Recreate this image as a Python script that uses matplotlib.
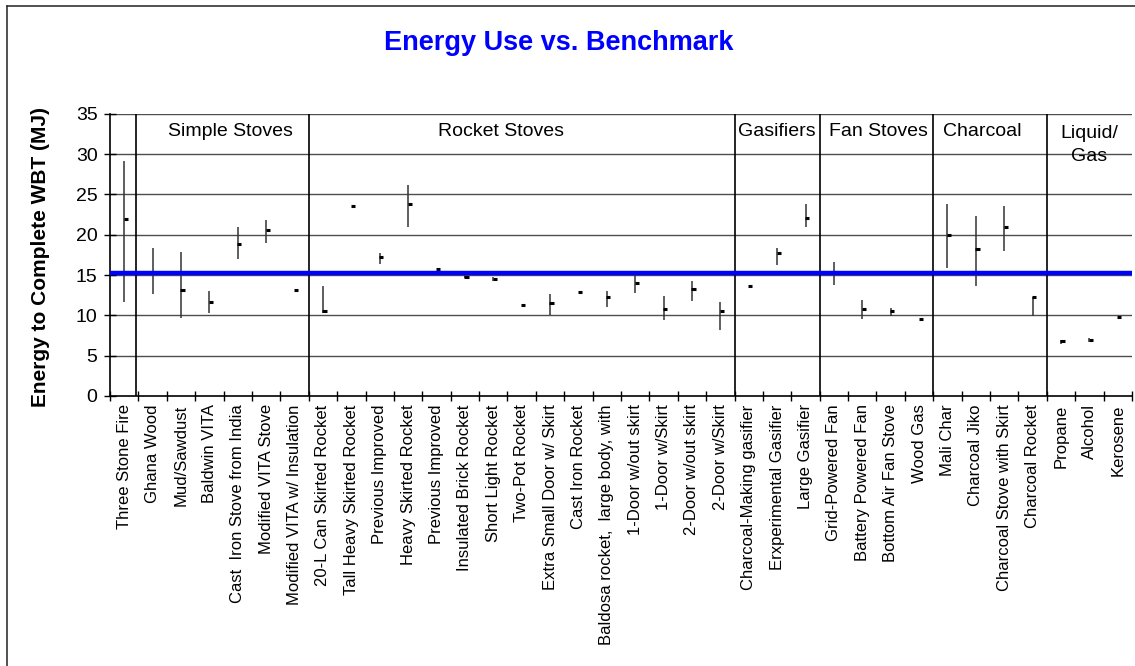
"""Energy use vs. benchmark: high/low range and mean per stove type."""

import numpy as np
import matplotlib
matplotlib.use("Agg")
import matplotlib.pyplot as plt
from matplotlib.lines import Line2D

plt.rcParams["font.family"] = ["Liberation Sans", "DejaVu Sans"]

STOVES = [
    "Three Stone Fire", "Ghana Wood", "Mud/Sawdust", "Baldwin VITA",
    "Cast  Iron Stove from India", "Modified VITA Stove",
    "Modified VITA w/ Insulation",
    "20-L Can Skirted Rocket", "Tall Heavy Skirted Rocket", "Previous Improved",
    "Heavy Skirted Rocket", "Previous Improved", "Insulated Brick Rocket",
    "Short Light Rocket", "Two-Pot Rocket", "Extra Small Door w/ Skirt",
    "Cast Iron Rocket", "Baldosa rocket,  large body, with",
    "1-Door w/out skirt", "1-Door w/Skirt", "2-Door w/out skirt", "2-Door w/Skirt",
    "Charcoal-Making gasifier", "Erxperimental Gasifier", "Large Gasifier",
    "Grid-Powered Fan", "Battery Powered Fan", "Bottom Air Fan Stove", "Wood Gas",
    "Mali Char", "Charcoal Jiko", "Charcoal Stove with Skirt", "Charcoal Rocket",
    "Propane", "Alcohol", "Kerosene",
]

MEAN_MJ = [
    21.9, 15.2, 13.2, 11.6, 18.8, 20.6, 13.2,
    10.6, 23.5, 17.2, 23.8, 15.8, 14.8, 14.5, 11.3, 11.5, 12.9, 12.3,
    14.0, 10.8, 13.3, 10.6,
    13.6, 17.7, 22.1,
    15.4, 10.8, 10.6, 9.5,
    20.0, 18.2, 20.9, 12.3,
    6.8, 7.0, 9.8,
]

HIGH_MJ = [
    29.1, 18.4, 17.8, 13.0, 21.0, 21.8, np.nan,
    13.6, np.nan, 17.7, 26.2, np.nan, 15.0, 14.7, np.nan, 12.7, np.nan, 13.0,
    15.0, 12.4, 14.3, 11.6,
    np.nan, 18.4, 23.8,
    16.6, 11.9, 10.9, np.nan,
    23.8, 22.3, 23.6, 12.3,
    7.0, 7.2, np.nan,
]

LOW_MJ = [
    11.6, 12.6, 9.7, 10.3, 17.0, 19.0, np.nan,
    10.3, np.nan, 16.4, 21.0, np.nan, 14.6, 14.3, np.nan, 10.0, np.nan, 11.0,
    12.8, 9.4, 11.8, 8.2,
    np.nan, 16.2, 20.9,
    13.8, 9.6, 9.9, np.nan,
    15.9, 13.6, 18.0, 9.9,
    6.5, 6.7, np.nan,
]

BENCHMARK_MJ = 15.2

GROUP_NAMES = ["Simple Stoves", "Rocket Stoves", "Gasifiers", "Fan Stoves",
               "Charcoal", "Liquid/\nGas"]
GROUP_LABEL_X = [3.75, 13.29, 22.99, 26.57, 30.23, 34.0]
GROUP_LABEL_Y = [32.8, 32.8, 32.8, 32.8, 32.8, 31.1]
SEPARATORS = [0.42, 6.5, 21.5, 24.5, 28.5, 32.5]

W, H = 1135, 666
fig = plt.figure(figsize=(W / 100, H / 100), dpi=100)
ax = fig.add_axes([110 / W, 1 - 396 / H, (1132 - 110) / W, (396 - 113.7) / H])

x = np.arange(len(STOVES))

for y in range(5, 40, 5):
    ax.axhline(y, color="0.3", lw=1.0, zorder=1)

ax.vlines(SEPARATORS, 0, 35, color="black", lw=1.2, zorder=2)

ax.vlines(x, LOW_MJ, HIGH_MJ, color="0.2", lw=1.1, zorder=3)
ax.hlines(MEAN_MJ, x - 0.02, x + 0.13, color="black", lw=2.2, zorder=4)

ax.axhline(BENCHMARK_MJ, color="#0000ff", lw=3.2, zorder=5)

for name, gx, gy in zip(GROUP_NAMES, GROUP_LABEL_X, GROUP_LABEL_Y):
    ax.text(gx, gy, name, ha="center", va="center", fontsize=14,
            multialignment="center", linespacing=1.45, zorder=6)

ax.set_xlim(-0.5, len(STOVES) - 0.5)
ax.set_ylim(0, 35)
ax.set_yticks(range(0, 40, 5))
ax.tick_params(axis="y", direction="inout", length=8, width=1, labelsize=14, pad=5)

ax.set_xticks(np.arange(-0.5, len(STOVES)), labels=[])
ax.set_xticks(x, labels=STOVES, minor=True, rotation=90, fontsize=12)
ax.tick_params(axis="x", which="major", direction="inout", length=7, width=1)
ax.tick_params(axis="x", which="minor", length=0, pad=6)
for lbl in ax.get_xticklabels(minor=True):
    lbl.set_va("top")

for side in ("top", "right"):
    ax.spines[side].set_visible(False)
for side in ("left", "bottom"):
    ax.spines[side].set_color("black")
    ax.spines[side].set_linewidth(1.2)

fig.text(40 / W, 1 - 257 / H, "Energy to Complete WBT (MJ)", rotation=90,
         ha="center", va="center", fontsize=15, fontweight="bold")
fig.text(559 / W, 1 - 43 / H, "Energy Use vs. Benchmark", ha="center",
         va="center", fontsize=19.5, fontweight="bold", color="#0000ff")

# outer frame of the original chart area (top and left edges are visible)
fig.add_artist(Line2D([7 / W, 7 / W], [0, 1 - 6 / H], color="0.2", lw=1.2))
fig.add_artist(Line2D([7 / W, 1], [1 - 6 / H, 1 - 6 / H], color="0.2", lw=1.2))

fig.savefig("out.png", dpi=100)
